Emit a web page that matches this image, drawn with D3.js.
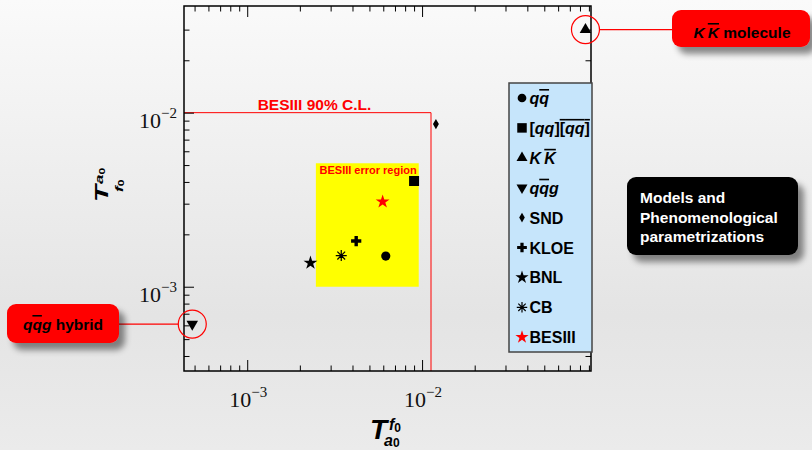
<!DOCTYPE html>
<html lang="en">
<head>
  <meta charset="UTF-8">
  <title>Tf0a0 vs Ta0f0</title>
  <style type="text/css">
    body{
      margin: 0;
      background: #eeeeee;
    }
    svg text{
      font-family: "Liberation Sans", Arial, sans-serif;
      font-weight: bold;
    }
    svg text.tickLabel{
      font-family: "Liberation Serif", "Times New Roman", serif;
      font-weight: normal;
      font-size: 22px;
      fill: #111;
    }
    .axis line{
      stroke: black;
      stroke-width: 1px;
    }
    .legend text{
      font-size: 16px;
      fill: black;
    }
  </style>
  <script type="text/javascript" src="https://cdn.jsdelivr.net/npm/d3@7/dist/d3.min.js"></script>
</head>
<body>
<script type="text/javascript">
  // values (x = T^f0_a0, y = T^a0_f0)
  var modelNames = ['qq', 'tetraquark', 'KK', 'hybrid', 'SND', 'KLOE', 'BNL', 'CB', 'BESIII'];
  var xValues = [6.2e-3, 9.0e-3, 0.086, 4.85e-4, 0.0120, 4.2e-3, 2.3e-3, 3.45e-3, 5.95e-3];
  var yValues = [1.50e-3, 4.05e-3, 0.030, 6.1e-4, 8.6e-3, 1.83e-3, 1.37e-3, 1.51e-3, 3.08e-3];
  var decadeTicks = [1e-3, 1e-2];
  var decadeExponents = ['\u22123', '\u22122'];
  var clLimit = [0.01125, 0.01];        // BESIII 90% C.L. (x, y)
  var errorX = [2.47e-3, 9.57e-3];      // BESIII error region
  var errorY = [1e-3, 5.12e-3];

  // legend labels: [text, flags]  i = italic, o = overline
  var legendLabels = [
    [['q', 'i'], ['q', 'io']],
    [['[', ''], ['qq', 'i'], [']', ''], ['[', 'o'], ['qq', 'io'], [']', 'o']],
    [['K', 'i'], ['\u2009', ''], ['K', 'io']],
    [['q', 'i'], ['q', 'io'], ['g', 'i']],
    [['SND', '']],
    [['KLOE', '']],
    [['BNL', '']],
    [['CB', '']],
    [['BESIII', '']]
  ];

  var W = 812, H = 450;
  var svg = d3.select('body').append('svg')
    .attr('width', W)
    .attr('height', H);

  var defs = svg.append('defs');
  var grad = defs.append('linearGradient')
    .attr('id', 'bg')
    .attr('x1', 0).attr('y1', 0).attr('x2', 0).attr('y2', 1);
  grad.append('stop').attr('offset', '0%').attr('stop-color', '#fafafa');
  grad.append('stop').attr('offset', '70%').attr('stop-color', '#e4e4e4');
  grad.append('stop').attr('offset', '100%').attr('stop-color', '#ebebeb');

  defs.append('filter')
    .attr('id', 'shadow')
    .attr('x', '-20%').attr('y', '-30%').attr('width', '150%').attr('height', '170%')
  .append('feDropShadow')
    .attr('dx', 6).attr('dy', 7)
    .attr('stdDeviation', 3)
    .attr('flood-color', '#000')
    .attr('flood-opacity', 0.45);

  svg.append('rect')
    .attr('width', W).attr('height', H)
    .attr('fill', 'url(#bg)');

  var plot = {left: 184, right: 591, top: 6, bottom: 371};

  var xScale = d3.scaleLog()
    .domain([4.35e-4, 0.0925])
    .range([plot.left, plot.right]);

  var yScale = d3.scaleLog()
    .domain([3.28e-4, 0.041])
    .range([plot.bottom, plot.top]);

  // error region
  svg.append('rect')
    .attr('x', xScale(errorX[0]))
    .attr('y', yScale(errorY[1]))
    .attr('width', xScale(errorX[1]) - xScale(errorX[0]))
    .attr('height', yScale(errorY[0]) - yScale(errorY[1]))
    .attr('fill', '#ffff00');

  svg.append('text')
    .attr('x', xScale(errorX[1]) - 2)
    .attr('y', yScale(errorY[1]) + 11)
    .attr('text-anchor', 'end')
    .style('font-size', '11px')
    .attr('fill', '#ff0000')
    .text('BESIII error region');

  // 90% C.L. limit
  svg.append('path')
    .attr('d', 'M' + plot.left + ',' + yScale(clLimit[1]) +
               'H' + xScale(clLimit[0]) + 'V' + plot.bottom)
    .attr('fill', 'none')
    .attr('stroke', '#ff0000')
    .attr('stroke-width', 1);

  svg.append('text')
    .attr('x', (plot.left + xScale(clLimit[0])) / 2 + 7)
    .attr('y', yScale(clLimit[1]) - 3)
    .attr('text-anchor', 'middle')
    .style('font-size', '15.5px')
    .attr('fill', '#ff0000')
    .text('BESIII 90% C.L.');

  // ticks on all four sides, pointing inwards
  var xMinor = xScale.ticks().filter(function(d){ return decadeTicks.indexOf(d) < 0; });
  var yMinor = yScale.ticks().filter(function(d){
    var v = yScale(d);
    return decadeTicks.indexOf(d) < 0 && v > plot.top + 3;
  });

  function ticks(axisFn, scale, tf, values, size){
    svg.append('g')
      .attr('class', 'axis')
      .attr('transform', tf)
      .call(axisFn(scale).tickValues(values).tickSize(size).tickFormat(''))
      .call(function(g){ g.select('.domain').remove(); });
  }

  ticks(d3.axisTop, xScale, 'translate(0,' + plot.bottom + ')', decadeTicks, 11);
  ticks(d3.axisTop, xScale, 'translate(0,' + plot.bottom + ')', xMinor, 5.5);
  ticks(d3.axisBottom, xScale, 'translate(0,' + plot.top + ')', decadeTicks, 11);
  ticks(d3.axisBottom, xScale, 'translate(0,' + plot.top + ')', xMinor, 5.5);
  ticks(d3.axisRight, yScale, 'translate(' + plot.left + ',0)', decadeTicks, 10);
  ticks(d3.axisRight, yScale, 'translate(' + plot.left + ',0)', yMinor, 5.5);
  ticks(d3.axisLeft, yScale, 'translate(' + plot.right + ',0)', decadeTicks, 10);
  ticks(d3.axisLeft, yScale, 'translate(' + plot.right + ',0)', yMinor, 5.5);

  svg.append('rect')
    .attr('x', plot.left).attr('y', plot.top)
    .attr('width', plot.right - plot.left)
    .attr('height', plot.bottom - plot.top)
    .attr('fill', 'none')
    .attr('stroke', 'black')
    .attr('stroke-width', 1.5);

  // tick labels 10^n
  decadeTicks.forEach(function(d, i){
    var t = svg.append('text')
      .attr('class', 'tickLabel')
      .attr('x', xScale(d) - 18)
      .attr('y', 407);
    t.append('tspan').text('10');
    t.append('tspan').attr('dy', -10).style('font-size', '15px').text(decadeExponents[i]);

    var u = svg.append('text')
      .attr('class', 'tickLabel')
      .attr('x', 139)
      .attr('y', yScale(d) + 15);
    u.append('tspan').text('10');
    u.append('tspan').attr('dy', -10).style('font-size', '15px').text(decadeExponents[i]);
  });

  // axis titles
  var xt = svg.append('g').attr('class', 'title');
  xt.append('text').attr('x', 370).attr('y', 439)
    .style('font-size', '28px').style('font-style', 'italic').text('T');
  var sup = xt.append('text').attr('x', 389).attr('y', 430)
    .style('font-size', '16px').style('font-style', 'italic');
  sup.append('tspan').text('f');
  sup.append('tspan').attr('dy', 2).style('font-size', '12px').style('font-style', 'normal').text('0');
  var sub = xt.append('text').attr('x', 384).attr('y', 446)
    .style('font-size', '16px').style('font-style', 'italic');
  sub.append('tspan').text('a');
  sub.append('tspan').attr('dy', 1).style('font-size', '12px').style('font-style', 'normal').text('0');

  var yt = svg.append('g')
    .attr('transform', 'translate(108,202) rotate(-90) scale(1,0.68)');
  yt.append('text').attr('x', 0).attr('y', 0)
    .style('font-size', '28px').style('font-style', 'italic').text('T');
  var ysup = yt.append('text').attr('x', 18).attr('y', -7)
    .style('font-size', '17px').style('font-style', 'italic');
  ysup.append('tspan').text('a');
  ysup.append('tspan').attr('dy', 2).style('font-size', '12px').style('font-style', 'normal').text('0');
  var ysub = yt.append('text').attr('x', 10).attr('y', 22)
    .style('font-size', '17px').style('font-style', 'italic');
  ysub.append('tspan').text('f');
  ysub.append('tspan').attr('dy', 2).style('font-size', '12px').style('font-style', 'normal').text('0');

  // markers
  function asterisk(r){
    var s = r * Math.SQRT1_2;
    return 'M' + (-r) + ',0H' + r + 'M0,' + (-r) + 'V' + r +
      'M' + (-s) + ',' + (-s) + 'L' + s + ',' + s +
      'M' + (-s) + ',' + s + 'L' + s + ',' + (-s);
  }

  var markerStyle = {
    qq:         {type: d3.symbolCircle,   size: 66, rot: 0,   color: 'black'},
    tetraquark: {type: d3.symbolSquare,   size: 100, rot: 0,  color: 'black'},
    KK:         {type: d3.symbolTriangle, size: 58, rot: 0,   color: 'black'},
    hybrid:     {type: d3.symbolTriangle, size: 58, rot: 180, color: 'black'},
    SND:        {type: d3.symbolDiamond,  size: 30, rot: 0,   color: 'black'},
    KLOE:       {type: d3.symbolCross,    size: 58, rot: 0,   color: 'black'},
    BNL:        {type: d3.symbolStar,     size: 60, rot: 0,   color: 'black'},
    CB:         {type: null,              size: 5.5, rot: 0,  color: 'black'},
    BESIII:     {type: d3.symbolStar,     size: 60, rot: 0,   color: '#ff0000'}
  };

  function drawMarker(g, name, scale){
    var st = markerStyle[name];
    if (st.type === null) {
      g.append('path')
        .attr('d', asterisk(st.size * scale))
        .attr('fill', 'none')
        .attr('stroke', st.color)
        .attr('stroke-width', 1.2);
    } else {
      g.append('path')
        .attr('d', d3.symbol().type(st.type).size(st.size * scale * scale)())
        .attr('transform', 'rotate(' + st.rot + ')')
        .attr('fill', st.color);
    }
  }

  var points = svg.selectAll('.point')
    .data(modelNames)
    .enter().append('g')
    .attr('class', 'point')
    .attr('transform', function(d, i){
      return 'translate(' + xScale(xValues[i]) + ',' + yScale(yValues[i]) + ')';
    });
  points.each(function(d){ drawMarker(d3.select(this), d, 1); });

  // legend
  var legendX = 509, legendY = 83;
  svg.append('rect')
    .attr('x', legendX).attr('y', legendY)
    .attr('width', 83).attr('height', 269)
    .attr('fill', '#c6e5fb')
    .attr('stroke', '#444')
    .attr('stroke-width', 1.5);

  var legend = svg.selectAll('.legend')
    .data(modelNames)
    .enter().append('g')
    .attr('class', 'legend')
    .attr('transform', function(d, i){
      return 'translate(' + (legendX + 13) + ',' + (legendY + 15 + i * 29.9) + ')';
    });

  legend.each(function(d){ drawMarker(d3.select(this), d, 0.95); });

  legend.append('text')
    .attr('x', 7.5)
    .attr('y', 6)
    .attr('fill', function(d){ return d === 'BESIII' ? '#ff0000' : 'black'; })
    .each(function(d, i){
      var t = d3.select(this);
      legendLabels[i].forEach(function(p){
        var s = t.append('tspan').text(p[0]);
        if (p[1].indexOf('i') >= 0) s.style('font-style', 'italic');
        if (p[1].indexOf('o') >= 0) s.style('text-decoration', 'overline');
      });
    });

  // callouts
  function callout(x, y, w, h, fill){
    svg.append('rect')
      .attr('x', x).attr('y', y)
      .attr('width', w).attr('height', h)
      .attr('rx', 9)
      .attr('fill', fill)
      .attr('filter', 'url(#shadow)');
  }

  var kk = [xScale(xValues[2]), yScale(yValues[2])];
  var hy = [xScale(xValues[3]), yScale(yValues[3])];

  svg.append('circle')
    .attr('cx', kk[0]).attr('cy', kk[1]).attr('r', 14)
    .attr('fill', 'none').attr('stroke', '#ff0000').attr('stroke-width', 1.2);
  svg.append('line')
    .attr('x1', kk[0] + 14).attr('x2', 672)
    .attr('y1', kk[1]).attr('y2', kk[1])
    .attr('stroke', '#ff0000').attr('stroke-width', 1.2);

  svg.append('circle')
    .attr('cx', hy[0]).attr('cy', hy[1]).attr('r', 14)
    .attr('fill', 'none').attr('stroke', '#ff0000').attr('stroke-width', 1.2);
  svg.append('line')
    .attr('x1', 119).attr('x2', hy[0] - 14)
    .attr('y1', hy[1]).attr('y2', hy[1])
    .attr('stroke', '#ff0000').attr('stroke-width', 1.2);

  callout(672, 10, 138, 37, '#ff0000');
  var kt = svg.append('text')
    .attr('x', 742).attr('y', 38)
    .attr('text-anchor', 'middle')
    .style('font-size', '15.5px');
  kt.append('tspan').style('font-style', 'italic').text('K');
  kt.append('tspan').text('\u2009');
  kt.append('tspan').style('font-style', 'italic').style('text-decoration', 'overline').text('K');
  kt.append('tspan').text(' molecule');

  callout(7, 304, 112, 39, '#ff0000');
  var ht = svg.append('text')
    .attr('x', 63).attr('y', 330)
    .attr('text-anchor', 'middle')
    .style('font-size', '15.5px');
  ht.append('tspan').style('font-style', 'italic').text('q');
  ht.append('tspan').style('font-style', 'italic').style('text-decoration', 'overline').text('q');
  ht.append('tspan').style('font-style', 'italic').text('g');
  ht.append('tspan').text(' hybrid');

  callout(627, 177, 171, 78, 'black');
  var mt = svg.append('text')
    .attr('fill', 'white')
    .style('font-size', '15.5px');
  ['Models and', 'Phenomenological', 'parametrizations'].forEach(function(s, i){
    mt.append('tspan').attr('x', 640).attr('y', 203 + i * 19.5).text(s);
  });
</script>
</body>
</html>
